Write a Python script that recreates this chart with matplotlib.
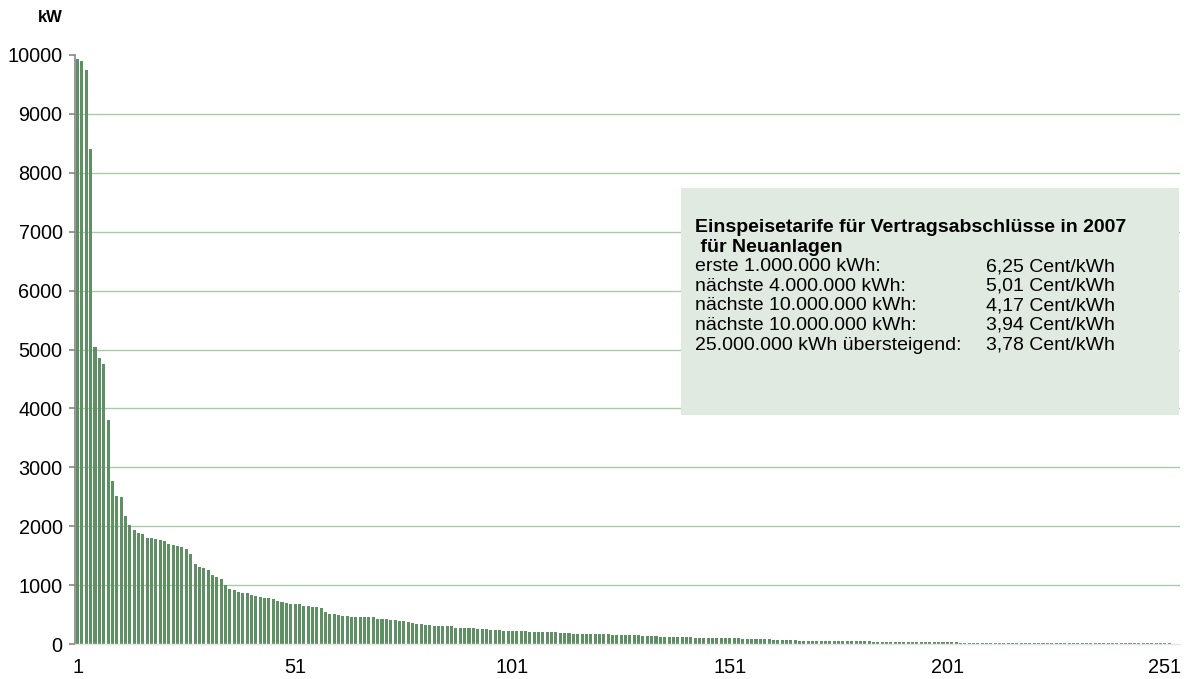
import matplotlib
matplotlib.use('Agg')
import matplotlib.pyplot as plt
from matplotlib.patches import Rectangle
import numpy as np

plt.rcParams['font.family'] = ['Liberation Sans', 'DejaVu Sans']

# Leistung der Anlagen in kW, absteigend sortiert
leistung_kw = [
    9930, 9890, 9750, 8400, 5040, 4850, 4750, 3810, 2760, 2505,
    2490, 2165, 2012, 1930, 1893, 1875, 1795, 1795, 1775, 1758,
    1757, 1690, 1675, 1672, 1655, 1620, 1520, 1350, 1300, 1282,
    1250, 1165, 1130, 1096, 1010, 927, 925, 876, 860, 858,
    825, 823, 791, 775, 774, 772, 723, 710, 693, 676,
    674, 672, 645, 643, 628, 626, 611, 543, 509, 507,
    492, 475, 474, 458, 458, 457, 456, 456, 455, 424,
    423, 422, 407, 406, 390, 389, 373, 357, 340, 339,
    323, 322, 306, 305, 305, 304, 303, 272, 271, 271,
    270, 270, 255, 254, 253, 238, 237, 236, 221, 220,
    220, 219, 219, 218, 204, 203, 203, 202, 202, 201,
    200, 187, 186, 185, 170, 170, 169, 169, 168, 168,
    167, 167, 166, 153, 153, 152, 152, 151, 151, 150,
    136, 136, 135, 135, 119, 119, 118, 118, 117, 117,
    116, 116, 102, 102, 101, 101, 100, 100, 100, 99,
    99, 98, 98, 85, 85, 84, 84, 83, 83, 82,
    68, 68, 67, 67, 66, 66, 51, 51, 51, 50,
    50, 50, 50, 49, 49, 49, 49, 48, 48, 48,
    47, 47, 47, 34, 34, 34, 34, 33, 33, 33,
    33, 32, 32, 32, 32, 31, 31, 31, 31, 30,
    30, 30, 30, 17, 17, 17, 17, 17, 17, 17,
    17, 16, 16, 16, 16, 16, 16, 16, 16, 15,
    15, 15, 15, 15, 15, 15, 15, 14, 14, 14,
    14, 14, 14, 14, 14, 13, 13, 13, 13, 13,
    13, 13, 13, 12, 12, 12, 12, 12, 12, 12,
    12, 11,
]
anlage_nr = np.arange(1, len(leistung_kw) + 1)

x_ticks = [1, 51, 101, 151, 201, 251]
y_ticks = list(range(0, 10001, 1000))

box_titel = ['Einspeisetarife für Vertragsabschlüsse in 2007', ' für Neuanlagen']
tarif_stufen = ['erste 1.000.000 kWh:', 'nächste 4.000.000 kWh:', 'nächste 10.000.000 kWh:',
                'nächste 10.000.000 kWh:', '25.000.000 kWh übersteigend:']
tarif_cent = ['6,25 Cent/kWh', '5,01 Cent/kWh', '4,17 Cent/kWh', '3,94 Cent/kWh', '3,78 Cent/kWh']

W, H = 1191, 679
fig = plt.figure(figsize=(W / 100, H / 100), dpi=100)
ax = fig.add_axes([75 / W, 1 - 644 / H, (1180 - 75) / W, (644 - 55) / H])

ax.bar(anlage_nr, leistung_kw, width=0.7, color='#5f9063', zorder=2)
for g in y_ticks[1:-1]:
    ax.axhline(g, color='#a9c9a9', lw=1, zorder=1)

ax.set_xlim(0.4, 254.5)
ax.set_ylim(0, 10000)
ax.set_xticks(x_ticks)
ax.set_yticks(y_ticks)
ax.tick_params(axis='x', length=0, labelsize=14.3, pad=10)
ax.tick_params(axis='y', length=4, color='#868686', width=1.2, labelsize=14.3, pad=5)

for s in ['top', 'right']:
    ax.spines[s].set_visible(False)
ax.spines['left'].set_color('#868686')
ax.spines['left'].set_linewidth(1.2)
ax.spines['bottom'].set_color('#e4e4e4')
ax.spines['bottom'].set_linewidth(1)

fig.text(50 / W, 1 - 17 / H, 'kW', fontsize=12, fontweight='bold', ha='center', va='center')

# Kasten mit Tarifen
fig.patches.append(Rectangle((681 / W, 1 - 415 / H), (1179 - 681) / W, (415 - 188) / H,
                             transform=fig.transFigure, facecolor='#e1eae1', edgecolor='none', zorder=1))
zeile_y = [228, 247, 267, 286, 306, 325, 345]
for i, t in enumerate(box_titel):
    fig.text(695 / W, 1 - zeile_y[i] / H, t, fontsize=14, fontweight='bold', ha='left', va='center', zorder=3)
for i, (a, b) in enumerate(zip(tarif_stufen, tarif_cent)):
    y = 1 - zeile_y[i + 2] / H
    fig.text(695 / W, y, a, fontsize=14, ha='left', va='center', zorder=3)
    fig.text(1115 / W, y, b, fontsize=14, ha='right', va='center', zorder=3)

fig.savefig('out.png', dpi=100)
